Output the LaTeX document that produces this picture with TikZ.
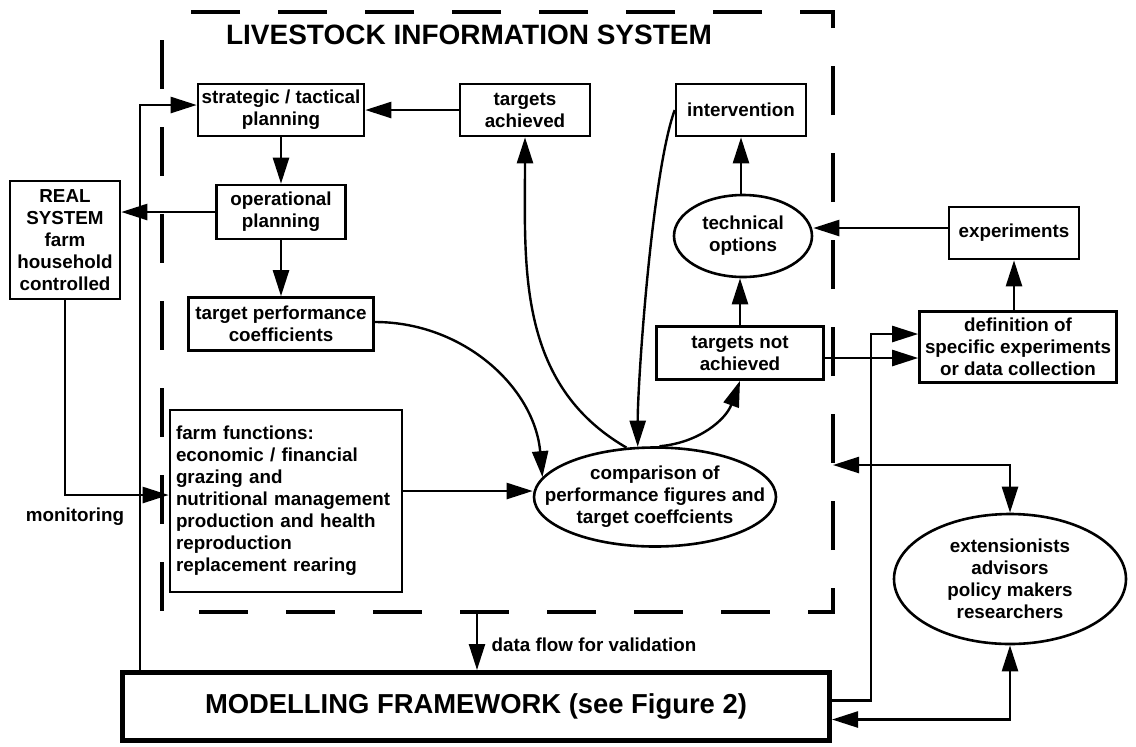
\documentclass[tikz,border=0pt]{standalone}
\usepackage{fontspec}
\setmainfont{Liberation Sans}
\usetikzlibrary{arrows.meta,shapes.geometric}

\begin{document}
\begin{tikzpicture}[x=0.5pt,y=-0.5pt,font=\fontsize{9.4}{11}\selectfont\bfseries,
  box/.style={draw,line width=1.3pt,align=center,inner sep=1pt},
  oval/.style={draw,ellipse,line width=1.3pt,align=center,inner xsep=-15pt,inner ysep=-2pt},
  conn/.style={line width=1.2pt,-{Triangle[length=13pt,width=8pt]}},
  twoway/.style={line width=1.2pt,{Triangle[length=13pt,width=8pt]}-{Triangle[length=13pt,width=8pt]}},
  frame/.style={line width=2pt,dash pattern=on 24.5pt off 19pt,dash phase=29.5pt}]
\useasboundingbox (0,0) rectangle (1136,746);

% information system frame
\coordinate (fnw) at (162,12);
\coordinate (fse) at (833,612);
\draw[frame] (fnw) rectangle (fse);
\node[font=\fontsize{14}{16}\selectfont\bfseries] (title) at (469,35) {LIVESTOCK INFORMATION SYSTEM};

% boxes
\node[box,minimum width=83pt,minimum height=26pt] (strat) at (281,110) {strategic / tactical\\planning};
\node[box,minimum width=64.5pt,minimum height=27pt] (oper) at (281,212) {operational\\planning};
\node[box,minimum width=92.5pt,minimum height=26.5pt] (tpc) at (281,324) {target performance\\coefficients};
\node[box,minimum width=55pt,minimum height=59pt] (real) at (65,240) {REAL\\SYSTEM\\farm\\household\\controlled};
\node[box,align=left,text width=110pt,inner xsep=3pt,minimum height=91pt] (farm) at (286,501)
  {farm functions:\\economic / financial\\grazing and\\nutritional management\\production and health\\reproduction\\replacement rearing};
\node[box,minimum width=65pt,minimum height=26pt] (tach) at (525,110) {targets\\achieved};
\node[box,minimum width=65pt,minimum height=26pt] (intv) at (741,110) {intervention};
\node[oval,minimum width=69pt,minimum height=41pt] (tech) at (743,236) {technical\\options};
\node[box,minimum width=65pt,minimum height=26pt] (exp) at (1014,233) {experiments};
\node[box,minimum width=98.5pt,minimum height=35.5pt] (defn) at (1018,347) {definition of\\specific experiments\\or data collection};
\node[box,minimum width=83.5pt,minimum height=26.5pt] (tna) at (740,353) {targets not\\achieved};
\node[oval,minimum width=121pt,minimum height=49.5pt] (comp) at (655,497) {comparison of\\performance figures and\\target coeffcients};
\node[oval,minimum width=116pt,minimum height=65pt] (ext) at (1010,579) {extensionists\\advisors\\policy makers\\researchers};
\node[draw,line width=2.5pt,minimum width=353.5pt,minimum height=34pt,font=\fontsize{13.7}{16}\selectfont\bfseries] (model) at (476,706.5) {MODELLING FRAMEWORK (see Figure 2)};

% labels
\node (mon) at (75,517) {monitoring};
\node (dflab) at (594,645) {data flow for validation};

% helper points
\coordinate (fbx) at (140,0);
\coordinate (upl) at (871,334);
\coordinate (frr) at (833,465);
\coordinate (dfl) at (477,612);

% connectors
\draw[conn] (strat) -- (oper);
\draw[conn] (oper) -- (tpc);
\draw[conn] (tach) -- (strat);
\draw[conn] (oper.west) -- (oper.west -| real.east);
\draw[conn] (model.north -| fbx) |- ([yshift=2.5pt]strat.west);
\draw[conn] (real.south) |- ([yshift=3pt]farm.west);
\draw[conn] ([yshift=5pt]farm.east) -- ([yshift=5pt]farm.east -| comp.west);
\draw[conn] ([yshift=1pt]tpc.east) to[out=0,in=95] (comp.170);
\draw[conn] (comp.120) to[out=150,in=-90] (tach.south);
\draw[conn] (intv.west) to[out=250,in=90,looseness=0.5] (comp.109);
\draw[conn] (comp.85) to[out=5,in=250] (tna.south);
\draw[conn] (tna.north) -- (tna.north |- tech.south);
\draw[conn] (intv.south |- tech.north) -- (intv.south);
\draw[conn] ([yshift=2.5pt]exp.west) -- ([yshift=2.5pt]exp.west -| tech.east);
\draw[conn] (exp.south |- defn.north) -- (exp.south);
\draw[conn] ([yshift=-2.5pt]tna.east) -- ([yshift=-2.5pt]tna.east -| defn.west);
\draw[conn] ([yshift=3pt]model.east) -| (upl) -- (upl -| defn.west);
\draw[twoway] (frr) -| (ext.north);
\draw[twoway] ([yshift=-6.5pt]model.east) -| (ext.south);
\draw[conn] (dfl) -- (dfl |- model.north);
\end{tikzpicture}
\end{document}
